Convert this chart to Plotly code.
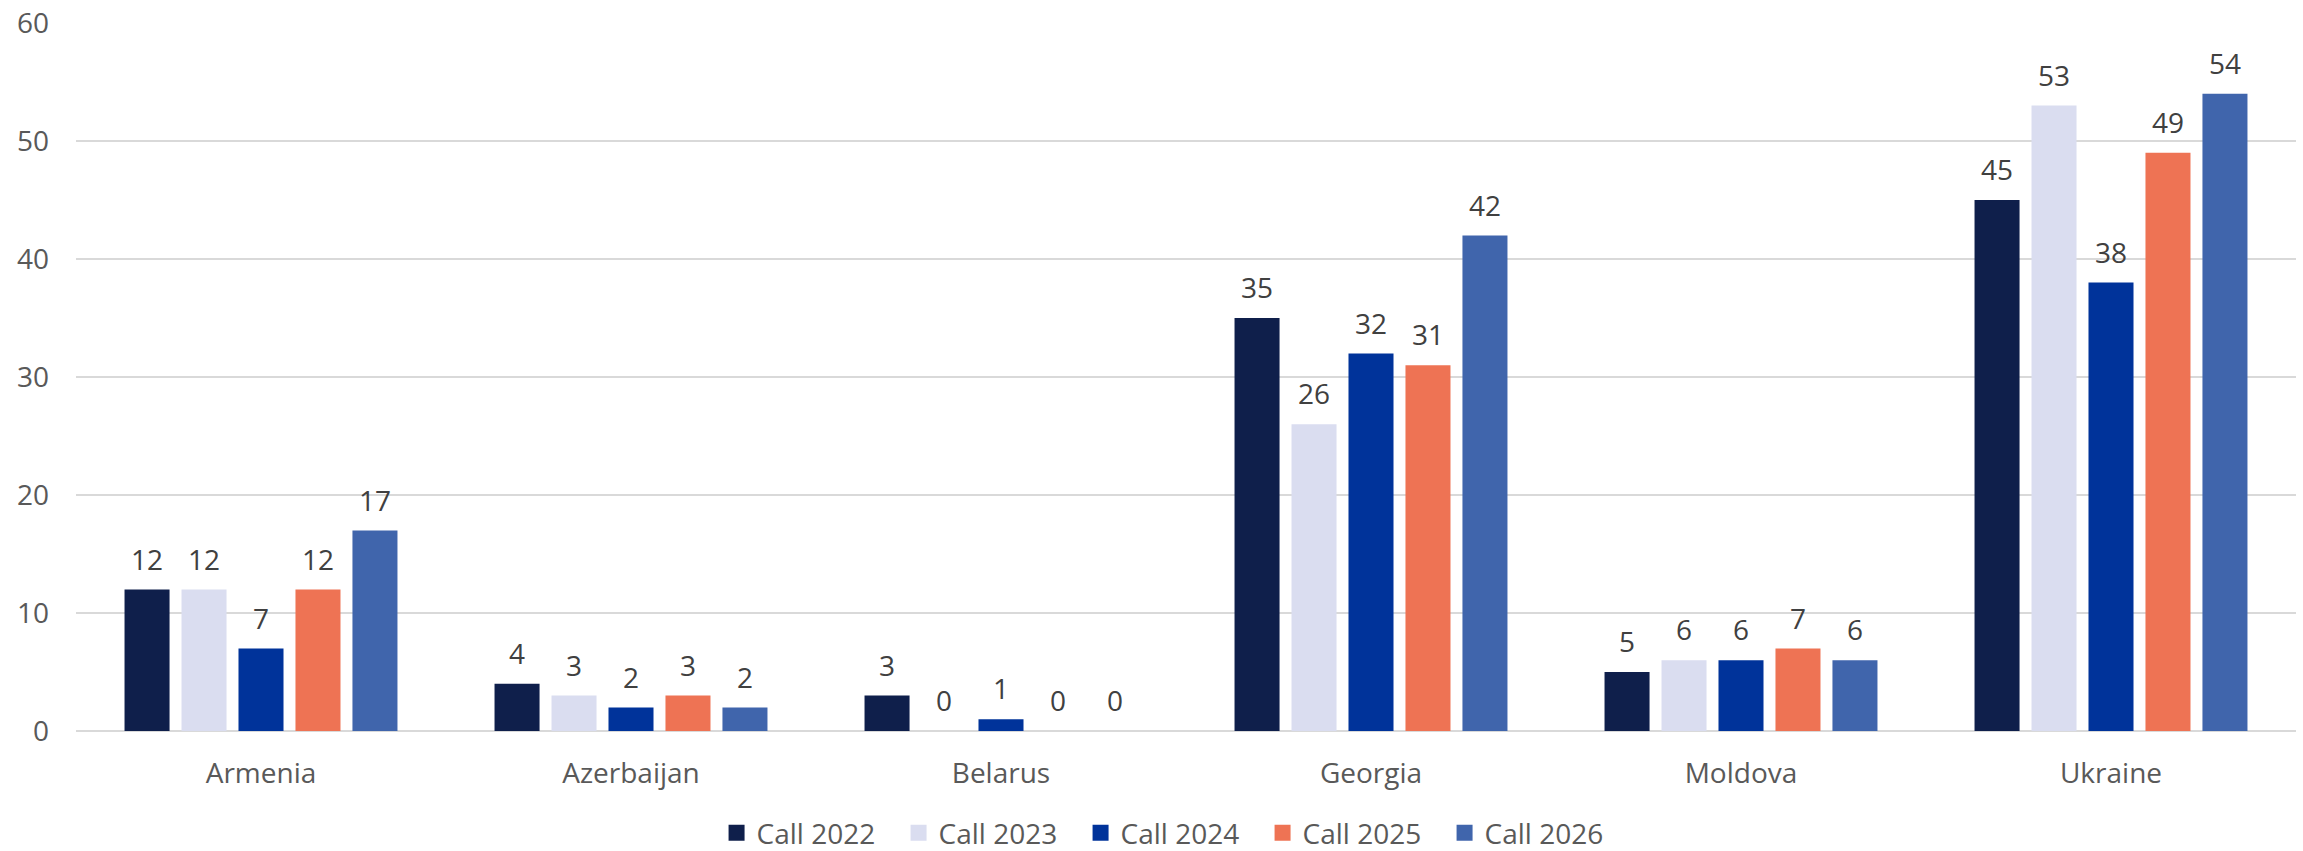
import plotly.graph_objects as go

# Submitted proposals per country and call year
countries = ["Armenia", "Azerbaijan", "Belarus", "Georgia", "Moldova", "Ukraine"]
series_names = ["Call 2022", "Call 2023", "Call 2024", "Call 2025", "Call 2026"]
call_2022 = [12, 4, 3, 35, 5, 45]
call_2023 = [12, 3, 0, 26, 6, 53]
call_2024 = [7, 2, 1, 32, 6, 38]
call_2025 = [12, 3, 0, 31, 7, 49]
call_2026 = [17, 2, 0, 42, 6, 54]
y_ticks = [0, 10, 20, 30, 40, 50, 60]

series_values = [call_2022, call_2023, call_2024, call_2025, call_2026]
colors = ["#0F1F4B", "#DADDF0", "#00339A", "#EE7354", "#4065AC"]

FONT = "Open Sans, Lato, sans-serif"
fig = go.Figure()

for i, (name, vals, col) in enumerate(zip(series_names, series_values, colors)):
    grp = f"g{i}"
    fig.add_trace(go.Bar(
        x=countries, y=vals, name=name, marker=dict(color=col, line=dict(width=0)),
        offsetgroup=grp, showlegend=False, hoverinfo="x+y+name",
    ))
    # value labels, lifted above each bar by an invisible marker
    fig.add_trace(go.Scatter(
        x=countries, y=vals, mode="text+markers", text=[str(v) for v in vals],
        textposition="top center", offsetgroup=grp,
        marker=dict(size=19, opacity=0, color=col),
        textfont=dict(family=FONT, size=28, color="#404040"),
        showlegend=False, hoverinfo="skip", cliponaxis=False,
    ))
    # legend entry with a larger square swatch
    fig.add_trace(go.Scatter(
        x=[None], y=[None], mode="markers", name=name, offsetgroup=grp,
        marker=dict(symbol="square", size=19, color=col),
        showlegend=True, hoverinfo="skip",
    ))

fig.update_layout(
    width=2303, height=851,
    margin=dict(l=76, r=7, t=23, b=120, autoexpand=False),
    paper_bgcolor="white", plot_bgcolor="white",
    barmode="group", bargap=0.23, bargroupgap=0.21,
    scattermode="group", scattergap=0.23,
    font=dict(family=FONT, size=28, color="#595959"),
    legend=dict(
        orientation="h", x=0.4935, xanchor="center",
        y=-0.144, yanchor="middle",
        font=dict(family=FONT, size=28, color="#595959"),
        entrywidth=137, entrywidthmode="pixels", itemsizing="trace",
        bgcolor="rgba(0,0,0,0)",
    ),
    xaxis=dict(
        type="category", showgrid=False, showline=False, ticks="",
        tickfont=dict(family=FONT, size=28, color="#595959"),
        ticklabelstandoff=23, automargin=False,
    ),
    yaxis=dict(
        range=[0, 60], tickvals=y_ticks, showgrid=True, gridcolor="#D9D9D9",
        gridwidth=1.5, zeroline=True, zerolinecolor="#D9D9D9", zerolinewidth=1.5,
        showline=False, ticks="",
        tickfont=dict(family=FONT, size=28, color="#595959"),
        ticklabelstandoff=26, automargin=False,
    ),
)

fig.write_html("out.html")
